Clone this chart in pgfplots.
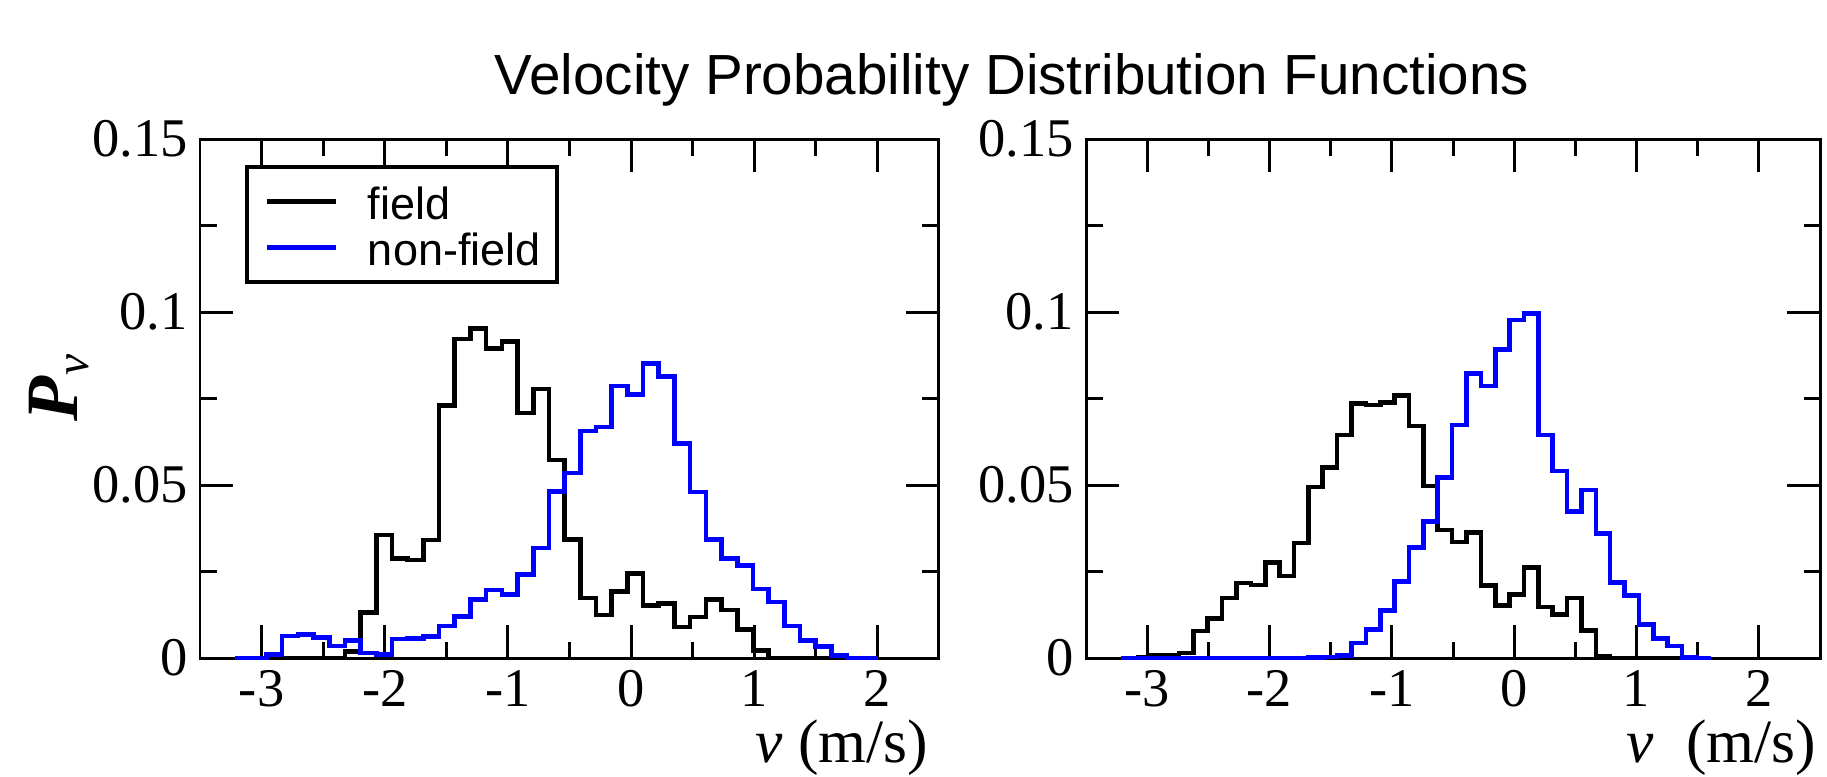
\documentclass[border=0pt]{standalone}
\usepackage{fontspec}
\setmainfont{Liberation Serif}
\newfontfamily\helv{Liberation Sans}
\usepackage{pgfplots}
\pgfplotsset{compat=1.18}

\pgfplotsset{
  pdfpanel/.style={
    scale only axis,
    height=5.19cm,
    xmin=-3.5, xmax=2.5,
    ymin=0, ymax=0.15,
    xtick={-3,-2,-1,0,1,2},
    xticklabels={-3,-2,-1,0,1,2},
    ytick={0,0.05,0.1,0.15},
    yticklabels={0,0.05,0.1,0.15},
    minor x tick num=1,
    minor y tick num=1,
    tick align=inside,
    major tick length=0.33cm,
    minor tick length=0.165cm,
    axis line style={line width=0.85pt},
    every tick/.append style={black, line width=0.85pt},
    ticklabel style={font=\fontsize{15.5}{18}\selectfont},
    clip=false,
  },
  histo/.style={const plot, line width=1.3pt, line join=miter},
}

\begin{document}
\begin{tikzpicture}
\path[use as bounding box] (0,0) rectangle (18.27,7.76);

% title
\node[anchor=base, inner sep=0pt, font=\helv\fontsize{16.1}{19}\selectfont]
  at (10.12,6.81) {Velocity Probability Distribution Functions};

% left panel
\begin{axis}[pdfpanel, at={(2.00cm,1.18cm)}, anchor=south west, width=7.39cm,
  legend cell align=left,
  legend style={at={(0.0636,0.946)}, anchor=north west, draw=black,
    line width=0.9pt, fill=white, inner xsep=0pt, inner ysep=0.11cm,
    outer sep=0pt, row sep=0pt, column sep=0pt, nodes={inner sep=0pt},
    font=\helv\fontsize{12.8}{15}\selectfont},
  legend image code/.code={
    \path[draw=none, fill=none] (0cm,-0.1cm) rectangle (1.21cm,0.1cm);
    \draw[#1] plot coordinates {(0.20cm,0cm) (0.89cm,0cm)};
  },
]
\addplot[histo, black] coordinates {
  (-2.9602,0) (-2.8328,0) (-2.7054,0) (-2.5780,0) (-2.4506,0)
  (-2.3232,0.0018) (-2.1958,0.0132) (-2.0684,0.0356) (-1.9410,0.0288)
  (-1.8136,0.0283) (-1.6862,0.0341) (-1.5588,0.0729) (-1.4314,0.0922)
  (-1.3040,0.0952) (-1.1766,0.0895) (-1.0492,0.0915) (-0.9218,0.0708)
  (-0.7944,0.0778) (-0.6670,0.0572) (-0.5396,0.0343) (-0.4122,0.0174)
  (-0.2848,0.0124) (-0.1574,0.0192) (-0.0300,0.0244) (0.0974,0.0151)
  (0.2248,0.0157) (0.3522,0.0090) (0.4796,0.0119) (0.6070,0.0169)
  (0.7344,0.0139) (0.8618,0.0083) (0.9892,0.0022) (1.1166,0)
  (1.2440,0) (1.3714,0) (1.4988,0) (1.6262,0) (1.7536,0)
};
\addlegendentry{\makebox[1.89cm][l]{\rule[-0.088cm]{0pt}{0.5cm}field}}
\addplot[histo, blue] coordinates {
  (-3.2150,0) (-3.0876,0) (-2.9602,0.0010) (-2.8328,0.0063) (-2.7054,0.0068)
  (-2.5780,0.0060) (-2.4506,0.0035) (-2.3232,0.0050) (-2.1958,0.0015)
  (-2.0684,0.0010) (-1.9410,0.0055) (-1.8136,0.0057) (-1.6862,0.0062)
  (-1.5588,0.0093) (-1.4314,0.0120) (-1.3040,0.0169) (-1.1766,0.0197)
  (-1.0492,0.0184) (-0.9218,0.0241) (-0.7944,0.0318) (-0.6670,0.0482)
  (-0.5396,0.0535) (-0.4122,0.0656) (-0.2848,0.0668) (-0.1574,0.0786)
  (-0.0300,0.0761) (0.0974,0.0852) (0.2248,0.0813) (0.3522,0.0620)
  (0.4796,0.0480) (0.6070,0.0343) (0.7344,0.0288) (0.8618,0.0267)
  (0.9892,0.0199) (1.1166,0.0162) (1.2440,0.0093) (1.3714,0.0050)
  (1.4988,0.0033) (1.6262,0.0007) (1.7536,0) (1.8810,0) (2.0084,0)
};
\addlegendentry{\makebox[1.89cm][l]{\rule[-0.088cm]{0pt}{0.5cm}non-field}}
\end{axis}

% right panel
\begin{axis}[pdfpanel, at={(10.86cm,1.18cm)}, anchor=south west, width=7.34cm]
\addplot[histo, black] coordinates {
  (-3.0925,0.0002) (-2.9750,0.0008) (-2.8575,0.0008) (-2.7400,0.0015)
  (-2.6225,0.0078) (-2.5050,0.0114) (-2.3875,0.0174) (-2.2700,0.0217)
  (-2.1525,0.0211) (-2.0350,0.0276) (-1.9175,0.0237) (-1.8000,0.0333)
  (-1.6825,0.0494) (-1.5650,0.0550) (-1.4475,0.0644) (-1.3300,0.0736)
  (-1.2125,0.0731) (-1.0950,0.0739) (-0.9775,0.0758) (-0.8600,0.0671)
  (-0.7425,0.0497) (-0.6250,0.0370) (-0.5075,0.0335) (-0.3900,0.0363)
  (-0.2725,0.0209) (-0.1550,0.0151) (-0.0375,0.0184) (0.0800,0.0261)
  (0.1975,0.0147) (0.3150,0.0126) (0.4325,0.0174) (0.5500,0.0080)
  (0.6675,0.0005) (0.7850,0) (0.9025,0) (1.0200,0) (1.1375,0)
  (1.2550,0) (1.3725,0) (1.4900,0)
};
\addplot[histo, blue] coordinates {
  (-3.2100,0) (-3.0925,0) (-2.9750,0) (-2.8575,0) (-2.7400,0)
  (-2.6225,0) (-2.5050,0) (-2.3875,0) (-2.2700,0) (-2.1525,0)
  (-2.0350,0) (-1.9175,0) (-1.8000,0) (-1.6825,0.0001) (-1.5650,0.0003)
  (-1.4475,0.0008) (-1.3300,0.0043) (-1.2125,0.0083) (-1.0950,0.0137)
  (-0.9775,0.0221) (-0.8600,0.0320) (-0.7425,0.0395) (-0.6250,0.0522)
  (-0.5075,0.0673) (-0.3900,0.0823) (-0.2725,0.0786) (-0.1550,0.0892)
  (-0.0375,0.0977) (0.0800,0.0995) (0.1975,0.0645) (0.3150,0.0540)
  (0.4325,0.0423) (0.5500,0.0485) (0.6675,0.0360) (0.7850,0.0219)
  (0.9025,0.0181) (1.0200,0.0097) (1.1375,0.0057) (1.2550,0.0035)
  (1.3725,0.0002) (1.4900,0) (1.6075,0)
};
\end{axis}

% axis labels
\node[rotate=90, anchor=base west, inner sep=0pt, font=\fontsize{21}{24}\selectfont]
  at (0.78,3.54) {\textbf{\textit{P}}\raisebox{-0.11cm}{\fontsize{13.5}{15}\selectfont\textit{v}}};
\node[anchor=base east, inner sep=0pt, font=\fontsize{17.5}{20}\selectfont]
  at (9.29,0.14) {\textit{v} (m/s)};
\node[anchor=base east, inner sep=0pt, font=\fontsize{17.5}{20}\selectfont]
  at (18.17,0.14) {\textit{v}\hspace{0.33cm}(m/s)};
\end{tikzpicture}
\end{document}
